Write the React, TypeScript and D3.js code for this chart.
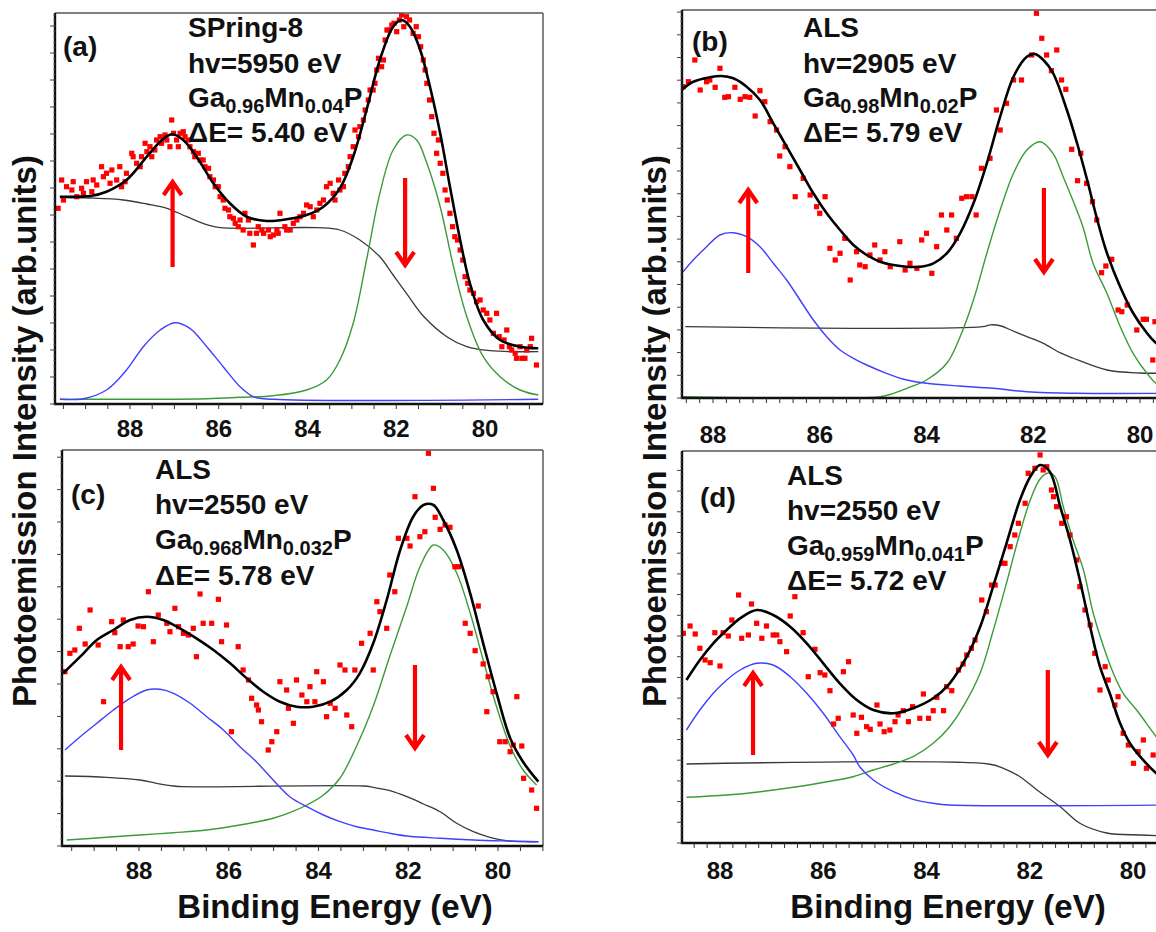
import React from 'react';
import * as d3 from 'd3';

type P = [number, number]; // [binding energy (eV), intensity (arb. units)]

const FONT = '"Liberation Sans", Arial, Helvetica, sans-serif';

// ---------------- (a) SPring-8, hv = 5950 eV, Ga0.96Mn0.04P ----------------
const aData: P[] = [
  [89.62, 195.7], [89.54, 224], [89.5, 204], [89.43, 217.3], [89.31, 214], [89.28, 222.3], [89.2, 207.3],
  [89.09, 215.7], [89.05, 210.7], [88.98, 222.3], [88.86, 212.3], [88.83, 224], [88.75, 219], [88.64, 237.3],
  [88.6, 227.3], [88.53, 230.7], [88.45, 220.7], [88.41, 234], [88.3, 224], [88.23, 237.3], [88.19, 217.3],
  [88.11, 222.3], [88.08, 230.7], [87.96, 250.7], [87.93, 247.3], [87.85, 240.7], [87.77, 237.3], [87.74, 247.3],
  [87.66, 260.7], [87.62, 252.3], [87.55, 257.3], [87.51, 247.3], [87.44, 254], [87.4, 264], [87.32, 267.3],
  [87.29, 260.7], [87.21, 269], [87.17, 264], [87.1, 257.3], [87.06, 284], [87.02, 270.7], [86.95, 264],
  [86.91, 257.3], [86.87, 270.7], [86.8, 272.3], [86.76, 267.3], [86.69, 264], [86.65, 257.3], [86.57, 252.3],
  [86.54, 247.3], [86.46, 250.7], [86.42, 244], [86.35, 244], [86.31, 237.3], [86.23, 235.7], [86.2, 227.3],
  [86.12, 224], [86.08, 217.3], [86.01, 217.3], [85.97, 207.3], [85.9, 204], [85.86, 195.7], [85.78, 194],
  [85.75, 187.3], [85.67, 185.7], [85.63, 180.7], [85.56, 177.3], [85.52, 184], [85.45, 174], [85.41, 190.7],
  [85.33, 184], [85.3, 170.7], [85.22, 159], [85.15, 170.7], [85.11, 177.3], [85.03, 174], [84.99, 170.7],
  [84.88, 174], [84.84, 167.3], [84.77, 169], [84.69, 174], [84.66, 170.7], [84.62, 190.7], [84.51, 177.3],
  [84.47, 174], [84.39, 174], [84.32, 180.7], [84.24, 184], [84.17, 187.3], [84.09, 190.7], [84.02, 199],
  [83.94, 197.3], [83.87, 187.3], [83.79, 194], [83.72, 200.7], [83.64, 204], [83.57, 217.3], [83.49, 220.7],
  [83.42, 210.7], [83.38, 204], [83.3, 224], [83.27, 214], [83.19, 217.3], [83.16, 230.7], [83.08, 237.3],
  [83.04, 247.3], [82.97, 257.3], [82.93, 274], [82.85, 267.3], [82.82, 277.3], [82.74, 284], [82.7, 294],
  [82.63, 304], [82.59, 314], [82.52, 314], [82.48, 320.7], [82.44, 334], [82.4, 345.7], [82.33, 337.3],
  [82.29, 344], [82.25, 364], [82.21, 374], [82.16, 374], [82.1, 379], [82.05, 380.7], [81.99, 372.3],
  [81.93, 384], [81.88, 389], [81.83, 377.3], [81.77, 387.3], [81.7, 384], [81.62, 370.7], [81.55, 377.3],
  [81.5, 367.3], [81.45, 357.3], [81.39, 344], [81.35, 334], [81.31, 320.7], [81.25, 304], [81.2, 287.3],
  [81.15, 270.7], [81.09, 250.7], [81.05, 264], [81.01, 240.7], [80.95, 230.7], [80.9, 214], [80.85, 204],
  [80.79, 190.7], [80.73, 177.3], [80.68, 167.3], [80.62, 164], [80.56, 154], [80.5, 144], [80.45, 127.3],
  [80.39, 120.7], [80.34, 114], [80.26, 110.7], [80.19, 102.3], [80.11, 104], [80.04, 94], [79.96, 90.7],
  [79.89, 84], [79.81, 70.7], [79.74, 90.7], [79.68, 67.3], [79.62, 57.3], [79.57, 64], [79.51, 74],
  [79.45, 57.3], [79.4, 54], [79.32, 50.7], [79.29, 45.7], [79.21, 57.3], [79.17, 45.7], [79.1, 45.7],
  [79.06, 54], [78.98, 57.3], [78.95, 65.7], [78.84, 39],
];
const aFit: P[] = [
  [89.58, 207.3], [88.9, 208], [88.53, 212.3], [88.08, 224], [87.62, 247.3], [87.32, 262.3], [87.06, 269.7],
  [86.8, 264], [86.5, 247.3], [86.12, 220.7], [85.75, 200.7], [85.37, 187.3], [84.92, 183], [84.47, 184.7],
  [84.02, 189], [83.64, 197.3], [83.27, 215.7], [82.97, 247.3], [82.67, 294], [82.37, 344], [82.07, 377.3],
  [81.88, 384], [81.69, 377.3], [81.46, 354], [81.24, 317.3], [81.01, 270.7], [80.79, 217.3], [80.56, 164],
  [80.34, 120.7], [80.04, 84], [79.66, 64], [79.21, 57.3], [78.8, 55.7],
];
const aBackground: P[] = [
  [89.58, 206.7], [88.9, 206], [88.15, 204], [87.62, 200], [87.17, 195.7], [86.72, 187.3], [86.27, 179.3],
  [85.97, 176.3], [83.79, 176.3], [83.27, 174], [82.82, 164], [82.37, 147.3], [82.07, 129], [81.77, 110.7],
  [81.39, 88], [80.86, 67.3], [80.41, 57.3], [79.89, 53.3], [78.8, 52.3],
];
const aSpinUp: P[] = [
  [89.58, 4.7], [89.05, 5.3], [88.53, 14], [88.08, 34], [87.7, 57.3], [87.32, 74], [86.99, 81.3], [86.65, 75.7],
  [86.27, 57.3], [85.9, 37.3], [85.52, 17.3], [85.22, 7.3], [84.77, 4.7], [78.8, 4.7],
];
const aSpinDown: P[] = [
  [89.58, 4.7], [86.27, 5.3], [85.52, 6.7], [84.77, 8.3], [84.02, 14], [83.57, 24], [83.27, 44], [82.97, 80.7],
  [82.67, 144], [82.37, 210.7], [82.07, 254], [81.77, 269], [81.54, 264], [81.31, 240.7], [81.01, 197.3],
  [80.71, 137.3], [80.41, 87.3], [80.04, 47.3], [79.66, 27.3], [79.21, 14], [78.8, 9],
];
const aArrows: [number, number, number][] = [[87.04, 137, 222], [81.8, 226, 139]];

// ---------------- (b) ALS, hv = 2905 eV, Ga0.98Mn0.02P ----------------
const bData: P[] = [
  [88.56, 311.3], [88.46, 316.3], [88.34, 338], [88.24, 308], [88.12, 316.3], [88.06, 318], [87.96, 310.7],
  [87.87, 329.7], [87.78, 300.7], [87.71, 301.3], [87.59, 310.7], [87.49, 298.7], [87.4, 301.3], [87.31, 300.7],
  [87.21, 282], [87.12, 307.3], [87.03, 296.3], [86.93, 276.3], [86.81, 268], [86.75, 242], [86.65, 251.3],
  [86.56, 231.3], [86.46, 201.3], [86.31, 219.7], [86.18, 203], [86.06, 191.3], [86.0, 184.7], [85.9, 201.3],
  [85.81, 149.7], [85.71, 138], [85.62, 144.7], [85.53, 159.7], [85.43, 118], [85.31, 146.3], [85.25, 133],
  [85.15, 131.3], [85.06, 143], [84.97, 153], [84.87, 138], [84.78, 146.3], [84.68, 131.3], [84.5, 156.3],
  [84.4, 128], [84.31, 134.7], [84.18, 129.7], [84.09, 158], [84.0, 164.7], [83.9, 124.7], [83.81, 151.3],
  [83.72, 183], [83.62, 168], [83.53, 183], [83.44, 159.7], [83.34, 199.7], [83.25, 201.3], [83.15, 201.3],
  [83.07, 183], [82.97, 229.7], [82.81, 239.7], [82.69, 288], [82.62, 268], [82.5, 294.7], [82.37, 318],
  [82.22, 318], [82.03, 343], [81.94, 384.7], [81.84, 359.7], [81.75, 343], [81.66, 327.3], [81.56, 348],
  [81.47, 318], [81.39, 308.7], [81.28, 248.7], [81.17, 217.3], [81.11, 244.7], [81.0, 214.7], [80.89, 196.3],
  [80.81, 178], [80.72, 125.3], [80.64, 132], [80.53, 138.7], [80.41, 88], [80.34, 86.3], [80.24, 93],
  [80.06, 68], [79.94, 78.7], [79.88, 78.7], [79.76, 38], [79.72, 76.3],
];
const bFit: P[] = [
  [88.59, 308], [88.37, 316.3], [88.06, 320.7], [87.84, 322], [87.62, 319.7], [87.37, 311.3], [87.12, 298],
  [86.87, 274.7], [86.62, 251.3], [86.37, 228], [86.12, 204.7], [85.87, 184.7], [85.62, 168], [85.37, 153],
  [85.12, 143], [84.87, 136.3], [84.62, 133], [84.37, 131.3], [84.12, 131.3], [83.87, 134.7], [83.62, 144.7],
  [83.37, 164.7], [83.12, 194.7], [82.87, 234.7], [82.62, 281.3], [82.37, 321.3], [82.12, 341.3], [81.97, 344],
  [81.81, 338], [81.63, 325], [81.37, 288], [81.18, 255], [80.99, 218], [80.8, 178], [80.62, 145], [80.37, 111],
  [80.13, 85], [79.87, 65], [79.7, 55], [79.45, 47],
];
const bBackground: P[] = [
  [88.52, 71.3], [82.95, 71.3], [82.8, 73.2], [82.6, 72], [82.4, 67.5], [82.12, 61.3], [81.81, 54.7], [81.5, 45.3],
  [81.26, 40], [80.62, 28], [80.0, 25], [79.4, 25],
];
const bSpinUp: P[] = [
  [88.56, 126.3], [88.37, 138], [88.12, 151.3], [87.87, 163], [87.62, 165.3], [87.37, 161.3], [87.12, 151.3],
  [86.87, 134.7], [86.62, 118], [86.37, 98], [86.12, 78], [85.87, 61.3], [85.62, 48], [85.37, 39.7], [85.12, 33],
  [84.75, 24.7], [84.37, 18], [84.0, 14.7], [83.37, 12], [82.75, 9.7], [82.12, 6.3], [81.19, 4.7], [79.4, 4.7],
];
const bSpinDown: P[] = [
  [88.56, 1.3], [84.87, 1.3], [84.62, 4.7], [84.37, 9.7], [84.0, 18], [83.62, 34.7], [83.37, 61.3], [83.12, 98],
  [82.87, 144.7], [82.62, 188], [82.37, 224.7], [82.12, 248], [81.87, 256.3], [81.63, 244.7], [81.44, 221.3],
  [81.26, 198], [81.07, 171.3], [80.88, 134.7], [80.62, 104.7], [80.37, 71.3], [80.13, 44.7], [79.87, 24.7],
  [79.7, 14.7], [79.4, 8],
];
const bArrows: [number, number, number][] = [[87.34, 125, 208], [81.8, 210, 126]];

// ---------------- (c) ALS, hv = 2550 eV, Ga0.968Mn0.032P ----------------
const cData: P[] = [
  [89.65, 174.3], [89.54, 192.7], [89.43, 196], [89.33, 217.7], [89.2, 202], [89.09, 236], [88.91, 201],
  [88.79, 144.3], [88.61, 224.3], [88.54, 213.3], [88.42, 199.3], [88.35, 226], [88.24, 199.3], [88.13, 202],
  [88.02, 220], [87.9, 219.3], [87.79, 254.3], [87.68, 204.3], [87.57, 231], [87.38, 222.7], [87.31, 214.3],
  [87.2, 237.7], [87.12, 219.3], [87.01, 212.7], [86.9, 211], [86.79, 217.7], [86.72, 189.3], [86.64, 252],
  [86.57, 222.7], [86.38, 222.7], [86.23, 246.7], [86.16, 204.3], [86.05, 221], [85.94, 114.3], [85.79, 199.3],
  [85.68, 176], [85.56, 166], [85.49, 147.7], [85.38, 141], [85.34, 136], [85.27, 124.3], [85.12, 96],
  [85.04, 104.3], [84.93, 114.3], [84.86, 164.3], [84.71, 156], [84.67, 137.7], [84.56, 122.7], [84.49, 166],
  [84.37, 151], [84.26, 144.3], [84.19, 159.3], [84.08, 144.3], [84.04, 174.3], [83.89, 164.3], [83.82, 129.3],
  [83.74, 142.7], [83.63, 137.7], [83.52, 181], [83.41, 176], [83.37, 131], [83.26, 119.3], [83.19, 176],
  [83.04, 202.7], [82.85, 212.7], [82.78, 176], [82.7, 244.3], [82.63, 234.3], [82.48, 217.7], [82.41, 271],
  [82.3, 254.3], [82.22, 307.7], [82.03, 307.7], [81.96, 300], [81.85, 349.3], [81.74, 309.3], [81.63, 314.3],
  [81.55, 392.7], [81.44, 357.7], [81.4, 328.7], [81.29, 316.7], [81.18, 321], [81.07, 318.7], [80.96, 279.3],
  [80.88, 279.3], [80.73, 222.7], [80.62, 212.7], [80.51, 195.3], [80.44, 240], [80.33, 182], [80.25, 134.3],
  [80.22, 169.3], [80.11, 154.3], [79.96, 104.3], [79.84, 104.3], [79.73, 94.3], [79.66, 101], [79.58, 149.3],
  [79.47, 100], [79.43, 67.7], [79.25, 56], [79.14, 37.7],
];
const cFit: P[] = [
  [89.69, 172.7], [89.31, 189.3], [88.94, 206], [88.57, 216], [88.2, 226], [87.83, 229.3], [87.46, 226],
  [87.09, 217.7], [86.72, 207.7], [86.34, 196], [85.97, 182.7], [85.6, 167.7], [85.23, 154.3], [84.86, 144.3],
  [84.49, 139.3], [84.12, 139.3], [83.74, 144.3], [83.37, 156], [83.08, 172.7], [82.78, 202.7], [82.48, 246],
  [82.18, 296], [81.89, 329.3], [81.66, 341], [81.44, 341], [81.22, 326], [80.92, 296], [80.62, 252.7],
  [80.33, 202.7], [80.03, 152.7], [79.73, 108], [79.44, 84], [79.1, 64.3],
];
const cBackground: P[] = [
  [89.65, 70], [88.72, 68.7], [87.98, 66], [87.61, 62.7], [87.23, 60], [87.01, 59.3], [83.0, 60], [82.78, 58.7],
  [82.41, 55.3], [82.03, 49.3], [81.66, 42], [81.29, 34.3], [80.92, 22.7], [80.55, 14.3], [80.18, 8.7],
  [79.81, 5.3], [79.43, 4.3], [79.1, 4.3],
];
const cSpinUp: P[] = [
  [89.65, 96], [89.31, 109.3], [88.94, 122.7], [88.57, 136], [88.2, 147.7], [87.83, 156], [87.53, 156.7],
  [87.23, 152.7], [86.86, 142.7], [86.49, 129.3], [86.12, 116], [85.75, 99.3], [85.38, 84], [85.01, 66],
  [84.64, 49.3], [84.26, 39.3], [83.89, 31], [83.52, 24.3], [83.15, 19.3], [82.78, 16], [82.41, 12.7],
  [82.03, 10], [81.29, 7.7], [80.55, 6], [79.81, 5], [79.1, 4.3],
];
const cSpinDown: P[] = [
  [89.61, 6], [88.72, 8.7], [87.98, 11], [87.23, 13.3], [86.49, 16], [85.75, 21], [85.01, 27.7], [84.64, 33.3],
  [84.26, 41], [83.89, 51], [83.52, 68], [83.15, 100], [82.78, 140], [82.41, 190], [82.03, 240], [81.74, 279],
  [81.44, 301], [81.22, 296], [80.92, 273], [80.62, 233], [80.33, 186], [80.03, 139], [79.73, 100], [79.44, 76],
  [79.14, 61],
];
const cArrows: [number, number, number][] = [[88.4, 96, 179], [81.85, 181, 98]];

// ---------------- (d) ALS, hv = 2550 eV, Ga0.959Mn0.041P ----------------
const dData: P[] = [
  [88.71, 209.7], [88.58, 217], [88.48, 209], [88.39, 194.7], [88.29, 183], [88.19, 180.3], [88.1, 210.3],
  [88.0, 177], [87.94, 210.3], [87.84, 207], [87.77, 223], [87.64, 248], [87.58, 204.7], [87.45, 208],
  [87.39, 239], [87.29, 219.7], [87.19, 204.7], [87.1, 217], [86.97, 208], [86.9, 208], [86.84, 201.3],
  [86.71, 191.3], [86.64, 227], [86.55, 246.3], [86.39, 210.3], [86.29, 166.3], [86.16, 193.7], [86.06, 170.3],
  [85.97, 168], [85.87, 152.3], [85.8, 119], [85.71, 124.7], [85.61, 171.3], [85.51, 181.3], [85.42, 128],
  [85.35, 109.7], [85.26, 125.7], [85.16, 116.3], [85.09, 113.7], [84.96, 138], [84.9, 119], [84.82, 111.3],
  [84.71, 113], [84.61, 121.3], [84.55, 128], [84.45, 132.3], [84.35, 121.3], [84.27, 136.3], [84.13, 124.7],
  [84.06, 149], [83.96, 124.7], [83.87, 132.3], [83.8, 145.7], [83.67, 132.3], [83.61, 156.3], [83.51, 152.3],
  [83.38, 173], [83.29, 179], [83.22, 188], [83.13, 194.7], [83.06, 203], [82.93, 243], [82.84, 231.3],
  [82.74, 258], [82.67, 258], [82.54, 279.7], [82.48, 279.7], [82.38, 296.3], [82.29, 308], [82.22, 319.7],
  [82.09, 339.7], [82.03, 369.7], [81.9, 374.7], [81.8, 388], [81.74, 373], [81.67, 376.3], [81.58, 353],
  [81.54, 346.3], [81.48, 336.3], [81.38, 319.7], [81.29, 326.3], [81.22, 308], [81.09, 283], [81.03, 256.3],
  [80.93, 233], [80.83, 218], [80.74, 189.7], [80.64, 153], [80.54, 176.3], [80.48, 163], [80.35, 138],
  [80.29, 146.3], [80.19, 109.7], [80.09, 98], [79.99, 79.7], [79.9, 91.3], [79.8, 103], [79.74, 74.7],
  [79.61, 88],
];
const dFit: P[] = [
  [88.65, 163], [88.39, 183], [88.13, 199.7], [87.87, 213], [87.61, 224.7], [87.29, 233], [86.97, 228],
  [86.64, 216.3], [86.32, 199.7], [86.0, 179.7], [85.68, 159.7], [85.35, 143], [85.03, 133], [84.64, 129.7],
  [84.26, 134.7], [83.87, 144.7], [83.55, 159.7], [83.22, 186.3], [82.96, 216.3], [82.71, 256.3], [82.45, 299.7],
  [82.19, 343], [81.99, 366.3], [81.8, 378], [81.61, 371.3], [81.41, 336.3], [81.22, 303], [81.03, 263],
  [80.83, 216.3], [80.64, 176.3], [80.45, 149.7], [80.25, 119.7], [80.06, 99.7], [79.86, 86.3], [79.55, 69.7],
  [79.35, 62],
];
const dBackground: P[] = [
  [88.65, 79], [82.8, 79], [82.51, 74.7], [82.19, 66.3], [81.86, 53], [81.41, 36.3], [81.03, 19.7], [80.51, 10],
  [79.86, 8], [79.35, 7],
];
const dSpinUp: P[] = [
  [88.65, 113], [88.39, 133], [88.13, 149.7], [87.87, 163], [87.61, 173], [87.29, 179.7], [86.97, 178],
  [86.64, 166.3], [86.32, 149.7], [86.0, 129.7], [85.68, 106.3], [85.42, 88], [85.29, 76], [85.03, 63],
  [84.64, 51.3], [84.26, 43.7], [83.87, 39.7], [83.55, 38], [79.35, 38],
];
const dSpinDown: P[] = [
  [88.65, 45.7], [87.87, 48], [87.22, 51.3], [86.58, 55.7], [85.93, 61.3], [85.42, 66.3], [85.03, 73],
  [84.64, 79], [84.26, 86.3], [83.87, 99.7], [83.55, 116.3], [83.29, 136.3], [82.96, 170], [82.71, 212],
  [82.45, 260], [82.19, 310], [81.99, 343], [81.8, 364], [81.64, 370], [81.51, 366.3], [81.35, 336.3],
  [81.16, 303], [80.96, 273], [80.77, 229.7], [80.57, 196.3], [80.38, 169.7], [80.19, 149.7], [79.93, 133],
  [79.74, 119.7], [79.55, 106.3], [79.35, 96],
];
const dArrows: [number, number, number][] = [[87.36, 88, 170], [81.65, 173, 88]];

// Energy tick labels shared by every panel
const energyLabels = [88, 86, 84, 82, 80];

type Seg = { t: string; sub?: boolean };

interface PanelDef {
  id: string;
  tag: string;
  lines: Seg[][];
  data: P[];
  fit: P[];
  background: P[];
  spinUp: P[];
  spinDown: P[];
  arrows: [number, number, number][];
  // layout
  left: number; right: number; top: number; bottom: number;
  x88: number; x80: number;
  xStep: number; yStep: number;
  labelY: number;
  tagX: number; tagY: number;
  textX: number; textY: number[];
  openRight?: boolean;
  fill?: boolean;
}

const panels: PanelDef[] = [
  {
    id: 'a', tag: '(a)',
    lines: [[{ t: 'SPring-8' }], [{ t: 'hv=5950 eV' }],
      [{ t: 'Ga' }, { t: '0.96', sub: true }, { t: 'Mn' }, { t: '0.04', sub: true }, { t: 'P' }], [{ t: 'ΔE= 5.40 eV' }]],
    data: aData, fit: aFit, background: aBackground, spinUp: aSpinUp, spinDown: aSpinDown, arrows: aArrows,
    left: 55, right: 543, top: 13, bottom: 404, x88: 130, x80: 485, xStep: 0.5, yStep: 27, labelY: 437,
    tagX: 63, tagY: 56, textX: 188, textY: [37, 73, 107, 142],
  },
  {
    id: 'b', tag: '(b)',
    lines: [[{ t: 'ALS' }], [{ t: 'hv=2905 eV' }],
      [{ t: 'Ga' }, { t: '0.98', sub: true }, { t: 'Mn' }, { t: '0.02', sub: true }, { t: 'P' }], [{ t: 'ΔE= 5.79 eV' }]],
    data: bData, fit: bFit, background: bBackground, spinUp: bSpinUp, spinDown: bSpinDown, arrows: bArrows,
    left: 682, right: 1175, top: 10, bottom: 398, x88: 713, x80: 1140, xStep: 0.25, yStep: 22.7, labelY: 443,
    tagX: 692, tagY: 51, textX: 803, textY: [37, 73, 107, 142], openRight: true, fill: true,
  },
  {
    id: 'c', tag: '(c)',
    lines: [[{ t: 'ALS' }], [{ t: 'hv=2550 eV' }],
      [{ t: 'Ga' }, { t: '0.968', sub: true }, { t: 'Mn' }, { t: '0.032', sub: true }, { t: 'P' }], [{ t: 'ΔE= 5.78 eV' }]],
    data: cData, fit: cFit, background: cBackground, spinUp: cSpinUp, spinDown: cSpinDown, arrows: cArrows,
    left: 62, right: 543, top: 450, bottom: 846, x88: 139, x80: 498, xStep: 0.5, yStep: 32.4, labelY: 879,
    tagX: 71, tagY: 504, textX: 155, textY: [479, 514, 549, 585],
  },
  {
    id: 'd', tag: '(d)',
    lines: [[{ t: 'ALS' }], [{ t: 'hv=2550 eV' }],
      [{ t: 'Ga' }, { t: '0.959', sub: true }, { t: 'Mn' }, { t: '0.041', sub: true }, { t: 'P' }], [{ t: 'ΔE= 5.72 eV' }]],
    data: dData, fit: dFit, background: dBackground, spinUp: dSpinUp, spinDown: dSpinDown, arrows: dArrows,
    left: 682, right: 1175, top: 451, bottom: 843, x88: 720, x80: 1133, xStep: 0.25, yStep: 20.7, labelY: 879,
    tagX: 700, tagY: 507, textX: 787, textY: [485, 520, 555, 590], openRight: true, fill: true,
  },
];

const RED = '#ff0000';
const BLUE = '#4040ff';
const GREEN = '#3b9b3b';

function TextLine({ x, y, segs }: { x: number; y: number; segs: Seg[] }) {
  let shift = 0;
  return (
    <text x={x} y={y} fontFamily={FONT} fontWeight="bold" fontSize={28} fill="#111">
      {segs.map((s, i) => {
        const dy = s.sub ? 6 - shift : -shift;
        shift = s.sub ? 6 : 0;
        return (
          <tspan key={i} dy={dy} fontSize={s.sub ? 20 : 28}>{s.t}</tspan>
        );
      })}
    </text>
  );
}

function Panel({ p }: { p: PanelDef }) {
  const x = d3.scaleLinear().domain([88, 80]).range([p.x88, p.x80]);
  const h = p.bottom - p.top;
  const y = d3.scaleLinear().domain([0, h]).range([p.bottom, p.top]);
  const line = d3.line<P>().x((d) => x(d[0])).y((d) => y(d[1])).curve(d3.curveCatmullRom.alpha(0.5));

  const eLeft = x.invert(p.left);
  const eRight = x.invert(p.right);
  const tickE = d3.range(Math.ceil(eRight / p.xStep) * p.xStep, eLeft, p.xStep);
  const majorI = d3.range(0, h, p.yStep);
  const minorI = d3.range(0, h, p.yStep / 5);
  const clipId = `clip-${p.id}`;

  return (
    <g>
      <defs>
        <clipPath id={clipId}>
          <rect x={p.left} y={p.top} width={p.right - p.left} height={h} />
        </clipPath>
      </defs>
      {p.fill && (
        <rect x={p.left - 12} y={p.top - 2} width={p.right - p.left + 12} height={h + 14} fill="#fff" />
      )}
      <g clipPath={`url(#${clipId})`}>
        <path d={line(p.background) || ''} fill="none" stroke="#3a3a3a" strokeWidth={1.3} />
        <path d={line(p.spinDown) || ''} fill="none" stroke={GREEN} strokeWidth={1.4} />
        <path d={line(p.spinUp) || ''} fill="none" stroke={BLUE} strokeWidth={1.4} />
        {p.data.map((d, i) => (
          <rect key={i} x={x(d[0]) - 2.6} y={y(d[1]) - 2.6} width={5.2} height={5.2} fill={RED} />
        ))}
        <path d={line(p.fit) || ''} fill="none" stroke="#000" strokeWidth={2.6} />
      </g>

      {p.arrows.map(([e, from, to], i) => {
        const ax = x(e);
        const y0 = y(from);
        const y1 = y(to);
        const dir = y1 < y0 ? 1 : -1; // head points up when 1
        return (
          <g key={i} stroke={RED} strokeWidth={4.2} fill="none" strokeLinecap="butt">
            <line x1={ax} y1={y0} x2={ax} y2={y1 + dir * 1} />
            <polyline points={`${ax - 9},${y1 + dir * 13} ${ax},${y1} ${ax + 9},${y1 + dir * 13}`} strokeLinejoin="miter" />
          </g>
        );
      })}

      <text x={p.tagX} y={p.tagY} fontFamily={FONT} fontWeight="bold" fontSize={28} fill="#111">{p.tag}</text>
      {p.lines.map((segs, i) => (
        <TextLine key={i} x={p.textX} y={p.textY[i]} segs={segs} />
      ))}

      {/* frame */}
      <line x1={p.left} y1={p.top} x2={p.right} y2={p.top} stroke="#555" strokeWidth={1.6} />
      {!p.openRight && <line x1={p.right} y1={p.top} x2={p.right} y2={p.bottom} stroke="#666" strokeWidth={1.6} />}
      <line x1={p.left} y1={p.top} x2={p.left} y2={p.bottom + 1} stroke="#111" strokeWidth={2.4} />
      <line x1={p.left - 1} y1={p.bottom} x2={p.right} y2={p.bottom} stroke="#111" strokeWidth={2.6} />

      {/* energy ticks */}
      {tickE.map((e, i) => (
        <line key={i} x1={x(e)} x2={x(e)} y1={p.bottom} y2={p.bottom + 5} stroke="#333" strokeWidth={1} />
      ))}
      {energyLabels.filter((e) => x(e) > p.left && x(e) < 1156).map((e) => (
        <text key={e} x={x(e)} y={p.labelY} textAnchor="middle" fontFamily={FONT} fontWeight="bold" fontSize={24} fill="#111">
          {e}
        </text>
      ))}

      {/* intensity ticks (no labels) */}
      {minorI.map((v, i) => (
        <line key={`m${i}`} x1={p.left - 2} x2={p.left} y1={y(v)} y2={y(v)} stroke="#777" strokeWidth={0.8} />
      ))}
      {majorI.map((v, i) => (
        <line key={`M${i}`} x1={p.left - 5} x2={p.left} y1={y(v)} y2={y(v)} stroke="#444" strokeWidth={1} />
      ))}
    </g>
  );
}

const yTitle = 'Photoemission Intensity (arb.units)';
const xTitle = 'Binding Energy (eV)';

export default function App() {
  return (
    <svg width={1156} height={932} style={{ position: 'absolute', left: 0, top: 0, background: '#fff' }}>
      <rect x={0} y={0} width={1156} height={932} fill="#fff" />
      <text transform="translate(36,431) rotate(-90)" textAnchor="middle" fontFamily={FONT} fontWeight="bold" fontSize={33} fill="#111">
        {yTitle}
      </text>
      <text transform="translate(666,431) rotate(-90)" textAnchor="middle" fontFamily={FONT} fontWeight="bold" fontSize={33} fill="#111">
        {yTitle}
      </text>
      {panels.map((p) => (
        <Panel key={p.id} p={p} />
      ))}
      <text x={335} y={918} textAnchor="middle" fontFamily={FONT} fontWeight="bold" fontSize={33} fill="#111">{xTitle}</text>
      <text x={948} y={918} textAnchor="middle" fontFamily={FONT} fontWeight="bold" fontSize={33} fill="#111">{xTitle}</text>
    </svg>
  );
}
